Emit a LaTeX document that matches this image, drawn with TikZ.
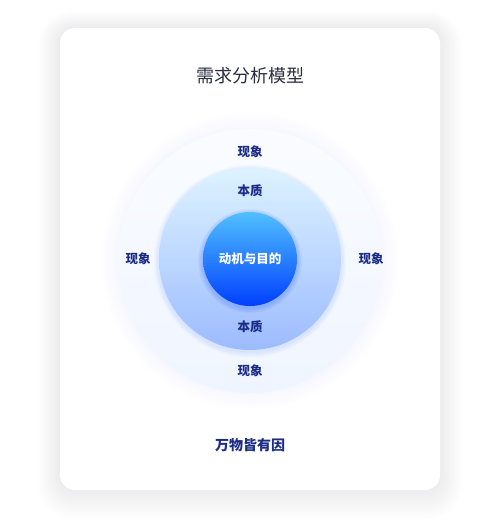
\documentclass[tikz,border=0pt]{standalone}
\usepackage{fontspec}
\newfontfamily\cjk{Noto Sans CJK SC}
\usetikzlibrary{shadings}
\definecolor{cardshadow}{HTML}{DDE2F0}
\definecolor{titlegray}{HTML}{2B2E3F}
\definecolor{labelblue}{HTML}{1B2C86}
\definecolor{outertop}{HTML}{FBFDFF}
\definecolor{outerbot}{HTML}{EEF5FF}
\definecolor{midtop}{HTML}{DDF3FF}
\definecolor{midbot}{HTML}{9CBBFF}
\definecolor{coretop}{HTML}{52C0FF}
\definecolor{corebot}{HTML}{003FFF}
\tikzset{
  label/.style={font=\cjk\bfseries\fontsize{12.5}{14}\selectfont, text=labelblue},
}

\begin{document}
\begin{tikzpicture}[x=1pt,y=-1pt]
      \useasboundingbox (0,0) rectangle (500,523);
      \fill[white] (0,0) rectangle (500,523);

      % card with soft shadow
      \foreach \s in {1,...,18} {
        \fill[cardshadow, opacity=0.025, rounded corners=15+\s]
          (60-\s*1.2, 28-\s*0.9) rectangle (440+\s*1.2, 490+\s*1.6);
      }
      \fill[white, rounded corners=15] (60,28) rectangle (440,490);

      % outer ring, soft edge
      \foreach \r in {148,146,...,134} {
        \fill[outerbot, opacity=0.06] (250,261) circle (\r);
      }
      \shade[top color=outertop, bottom color=outerbot, opacity=0.8] (250,261) circle (132);

      % middle disc
      \foreach \r in {96,95,...,92} {
        \fill[midbot, opacity=0.06] (250,261) circle (\r);
      }
      \shade[top color=midtop, bottom color=midbot] (250,259) circle (91);

      % core
      \foreach \r in {52,51,...,48} {
        \fill[corebot, opacity=0.04] (250,261) circle (\r);
      }
      \shade[top color=coretop, bottom color=corebot] (250,259) circle (47);

      \node[font=\cjk\fontsize{18}{21}\selectfont, text=titlegray] (title) at (250,76) {需求分析模型};
      \node[label, text=white] (core) at (250,259) {动机与目的};

      \node[label] (sTop) at (250,191) {本质};
      \node[label] (sBot) at (250,327) {本质};

      \node[label] (pTop) at (250,152) {现象};
      \node[label] (pBot) at (250,371) {现象};
      \node[label] (pLeft) at (138,259) {现象};
      \node[label] (pRight) at (371,259) {现象};

      \node[label, font=\cjk\bfseries\fontsize{14}{16}\selectfont] (cause) at (250,445) {万物皆有因};
    \end{tikzpicture}
\end{document}
